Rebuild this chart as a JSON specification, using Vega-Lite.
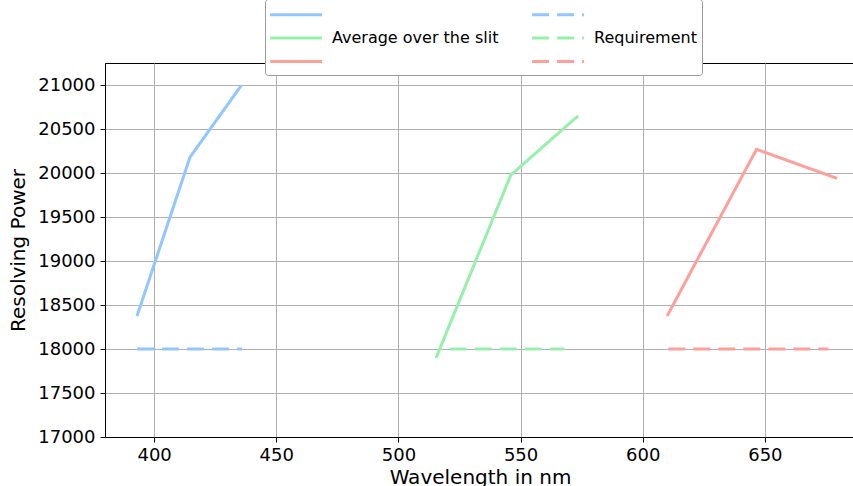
{
  "$schema": "https://vega.github.io/schema/vega-lite/v6.json",
  "width": 750,
  "height": 374,
  "autosize": {"type": "none"},
  "padding": {"left": 105, "top": 63, "right": 0, "bottom": 49},
  "background": "white",
  "config": {
    "font": "DejaVu Sans",
    "view": {"stroke": "black", "strokeWidth": 1},
    "axis": {
      "domainColor": "black",
      "tickColor": "black",
      "tickSize": 5,
      "labelFontSize": 18,
      "labelColor": "black",
      "titleFontSize": 20,
      "titleFontWeight": "normal",
      "titleColor": "black",
      "gridColor": "#b0b0b0",
      "gridWidth": 1
    }
  },
  "data": {
    "values": [
      {"series": "b_avg", "wl": 393, "rp": 18375},
      {"series": "b_avg", "wl": 414.7, "rp": 20180},
      {"series": "b_avg", "wl": 435.7, "rp": 20995},
      {"series": "g_avg", "wl": 515.4, "rp": 17898},
      {"series": "g_avg", "wl": 546, "rp": 19977},
      {"series": "g_avg", "wl": 573.5, "rp": 20648},
      {"series": "r_avg", "wl": 610, "rp": 18375},
      {"series": "r_avg", "wl": 646.6, "rp": 20269},
      {"series": "r_avg", "wl": 679.6, "rp": 19939},
      {"series": "b_req", "wl": 393, "rp": 18000},
      {"series": "b_req", "wl": 436, "rp": 18000},
      {"series": "g_req", "wl": 521, "rp": 18000},
      {"series": "g_req", "wl": 568, "rp": 18000},
      {"series": "r_req", "wl": 610.5, "rp": 18000},
      {"series": "r_req", "wl": 676, "rp": 18000}
    ]
  },
  "mark": {"type": "line", "clip": true},
  "encoding": {
    "x": {
      "field": "wl", "type": "quantitative",
      "scale": {"domain": [379.9, 686.9], "nice": false, "zero": false},
      "axis": {"values": [400, 450, 500, 550, 600, 650], "format": "d", "title": "Wavelength in nm", "labelPadding": 4, "titlePadding": 3}
    },
    "y": {
      "field": "rp", "type": "quantitative",
      "scale": {"domain": [17000, 21250], "nice": false, "zero": false},
      "axis": {"values": [17000, 17500, 18000, 18500, 19000, 19500, 20000, 20500, 21000], "format": "d", "title": "Resolving Power", "labelPadding": 5, "titlePadding": 9}
    },
    "color": {
      "field": "series", "type": "nominal",
      "scale": {
        "domain": ["b_avg", "g_avg", "r_avg", "b_req", "g_req", "r_req"],
        "range": ["#92C6FF", "#97F0AA", "#FF9F9A", "#92C6FF", "#97F0AA", "#FF9F9A"]
      },
      "legend": {
        "title": null,
        "orient": "none",
        "legendX": 160,
        "legendY": -64,
        "columns": 2,
        "symbolType": "M-1.2,0H4.8",
        "symbolSize": 300,
        "labelFontSize": 16,
        "labelColor": "black",
        "labelLimit": 400,
        "labelOffset": 41,
        "columnPadding": 27,
        "rowPadding": 4.5,
        "padding": 5,
        "fillColor": "white",
        "strokeColor": "#999999",
        "cornerRadius": 3,
        "labelExpr": "datum.value == 'g_avg' ? 'Average over the slit' : (datum.value == 'g_req' ? 'Requirement' : '')"
      }
    },
    "strokeDash": {
      "field": "series", "type": "nominal",
      "scale": {
        "domain": ["b_avg", "g_avg", "r_avg", "b_req", "g_req", "r_req"],
        "range": [[1, 0], [1, 0], [1, 0], [17, 8], [17, 8], [17, 8]]
      }
    },
    "strokeWidth": {
      "field": "series", "type": "nominal",
      "scale": {
        "domain": ["b_avg", "g_avg", "r_avg", "b_req", "g_req", "r_req"],
        "range": [3, 3, 3, 4.5, 4.5, 4.5]
      }
    }
  }
}
